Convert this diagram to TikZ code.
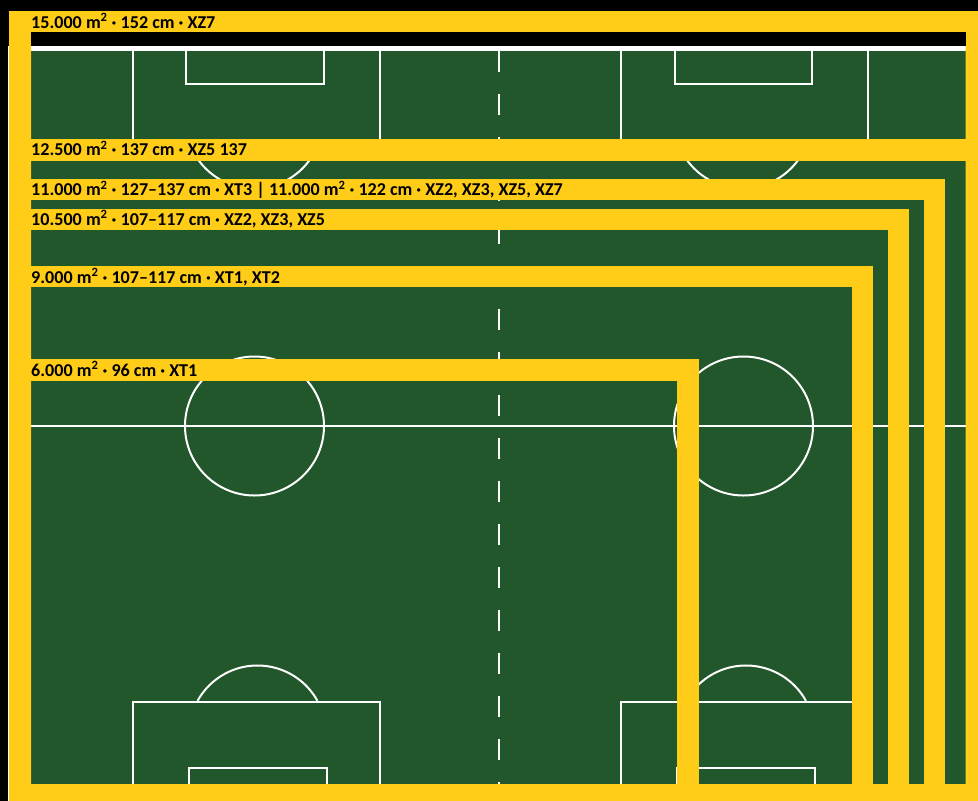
\documentclass[tikz,border=0pt]{standalone}
\usepackage{fontspec}
\setmainfont{Carlito}
\definecolor{pitchgreen}{HTML}{22562B}
\definecolor{bandyellow}{HTML}{FFCC17}
\tikzset{
    pitchline/.style={draw=white, line width=2pt},
    halfline/.style={draw=white, line width=2pt, dash pattern=on 21pt off 22pt},
    yellowband/.style={draw=bandyellow, line width=21.4pt, miter limit=10},
    bandlabel/.style={anchor=base west, inner sep=0pt, font=\fontsize{18.1}{20}\selectfont\bfseries}
}

\begin{document}
\begin{tikzpicture}[x=1pt, y=-1pt]
\fill[black] (0,0) rectangle (978,801);
\useasboundingbox (0,0) rectangle (978,801);
\draw[white, line width=1pt] (8,46) -- (8,801);
% pitch
\fill[pitchgreen] (31,51) rectangle (966,790);
\fill[white] (31,45.5) rectangle (966,51);
\draw[pitchline] (31,426) -- (966,426);
\draw[halfline] (498.5,51) -- (498.5,790);
\draw[pitchline] (254.5,426) circle[radius=69.5];
\draw[pitchline] (743.5,426) circle[radius=69.5];
% top goals
\foreach \offs in {0,488.5}{
    \draw[pitchline] (132.5+\offs,51) -- (132.5+\offs,139.5) (379.5+\offs,51) -- (379.5+\offs,139.5);
    \draw[pitchline] (186+\offs,51) |- (323.5+\offs,84) -- (323.5+\offs,51);
    \draw[pitchline] (254+\offs,120) ++(20:68.5) arc[start angle=20, end angle=160, radius=68.5];
}
% bottom goals
\draw[pitchline] (132.5,790) |- (379.5,701.5) -- (379.5,790);
\draw[pitchline] (189,790) |- (327,768) -- (327,790);
\draw[pitchline] (257.5,734) ++(-29:68.5) arc[start angle=-29, end angle=-151, radius=68.5];
\draw[pitchline] (621,790) |- (868,701.5) -- (868,790);
\draw[pitchline] (677,790) |- (815,768) -- (815,790);
\draw[pitchline] (746,734) ++(-29:68.5) arc[start angle=-29, end angle=-151, radius=68.5];
% size bands
\fill[bandyellow, even odd rule] (9,11) rectangle (978,801) (31,32.3) rectangle (965.5,784);
\fill[black] (31,32.3) rectangle (965.5,45.5);
\fill[bandyellow] (31,139.3) rectangle (965.5,161);
\draw[yellowband] (31,189.65) -| (934.3,784);
\draw[yellowband] (31,219.65) -| (898.4,784);
\draw[yellowband] (31,276.65) -| (862.5,784);
\draw[yellowband] (31,370.15) -| (687.9,784);
% labels
\node[bandlabel] (size15000) at (31,28) {15.000 m\textsuperscript{2} · 152 cm · XZ7};
\node[bandlabel] (size12500) at (31,155.7) {12.500 m\textsuperscript{2} · 137 cm · XZ5 137};
\node[bandlabel] (size11000) at (31,195.7) {11.000 m\textsuperscript{2} · 127–137 cm · XT3 | 11.000 m\textsuperscript{2} · 122 cm · XZ2, XZ3, XZ5, XZ7};
\node[bandlabel] (size10500) at (31,225) {10.500 m\textsuperscript{2} · 107–117 cm · XZ2, XZ3, XZ5};
\node[bandlabel] (size9000) at (31,283) {9.000 m\textsuperscript{2} · 107–117 cm · XT1, XT2};
\node[bandlabel] (size6000) at (31,376) {6.000 m\textsuperscript{2} · 96 cm · XT1};
\end{tikzpicture}
\end{document}
